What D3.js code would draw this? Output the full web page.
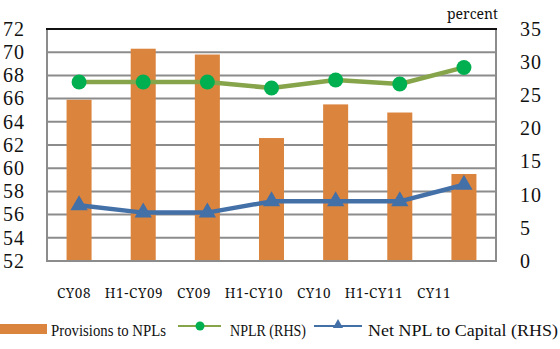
<!DOCTYPE html>
<html>
<head>
<meta charset="utf-8">
<script src="https://cdn.jsdelivr.net/npm/d3@7"></script>
<style>
  html, body { margin: 0; padding: 0; background: #fff; }
</style>
</head>
<body>
<svg id="chart" width="560" height="349"></svg>
<script>
// Categories and series
const categories = ["CY08", "H1-CY09", "CY09", "H1-CY10", "CY10", "H1-CY11", "CY11"];
const provisionsToNPLs = [65.9, 70.3, 69.8, 62.6, 65.5, 64.8, 59.5];
const nplr = [27.0, 27.0, 27.0, 26.1, 27.3, 26.7, 29.2];
const netNplToCapital = [8.4, 7.3, 7.3, 9.0, 9.0, 9.0, 11.5];
const leftTicks = [52, 54, 56, 58, 60, 62, 64, 66, 68, 70, 72];
const rightTicks = [0, 5, 10, 15, 20, 25, 30, 35];
const seriesNames = ["Provisions to NPLs", "NPLR (RHS)", "Net NPL to Capital (RHS)"];

const FONT = "Noto Serif";
const AXIS_FONT = "Liberation Serif";
const LEGEND_FONT = "Liberation Serif";

const svg = d3.select("#chart");
const plot = { left: 47, right: 496, top: 29, bottom: 261 };

const x = d3.scaleBand().domain(categories).range([plot.left, plot.right]).paddingInner(0.61).paddingOuter(0.305);
const xLabel = d3.scaleBand().domain(categories).range([44, 464]);
const yL = d3.scaleLinear().domain([52, 72]).range([plot.bottom, plot.top]);
const yR = d3.scaleLinear().domain([0, 35]).range([plot.bottom, plot.top]);

// Horizontal gridlines
svg.append("g").selectAll("line")
  .data(leftTicks.slice(1, -1))
  .join("line")
  .attr("x1", plot.left).attr("x2", plot.right)
  .attr("y1", d => yL(d)).attr("y2", d => yL(d))
  .attr("stroke", "#8c8c8c").attr("stroke-width", 2);

// Bars
svg.append("g").selectAll("rect")
  .data(categories)
  .join("rect")
  .attr("x", d => x(d))
  .attr("width", x.bandwidth())
  .attr("y", (d, i) => yL(provisionsToNPLs[i]))
  .attr("height", (d, i) => yL(52) - yL(provisionsToNPLs[i]))
  .attr("fill", "#DB843E");

// Plot frame
svg.append("line").attr("x1", plot.left).attr("x2", plot.left).attr("y1", plot.top).attr("y2", plot.bottom)
  .attr("stroke", "#8c8c8c").attr("stroke-width", 2);
svg.append("line").attr("x1", plot.right).attr("x2", plot.right).attr("y1", plot.top).attr("y2", plot.bottom)
  .attr("stroke", "#8c8c8c").attr("stroke-width", 2);
svg.append("line").attr("x1", plot.left - 1).attr("x2", plot.right + 1).attr("y1", plot.bottom).attr("y2", plot.bottom)
  .attr("stroke", "#8c8c8c").attr("stroke-width", 2);
svg.append("line").attr("x1", plot.left - 1).attr("x2", plot.right + 1).attr("y1", plot.top).attr("y2", plot.top)
  .attr("stroke", "#111").attr("stroke-width", 2);

const cx = d => x(d) + x.bandwidth() / 2;

// NPLR line with circle markers
const nplrLine = d3.line().x((d, i) => cx(categories[i])).y(d => yR(d));
svg.append("path").datum(nplr).attr("d", nplrLine)
  .attr("fill", "none").attr("stroke", "#86A44A").attr("stroke-width", 4.5).attr("stroke-linejoin", "round");
svg.append("g").selectAll("circle").data(nplr).join("circle")
  .attr("cx", (d, i) => cx(categories[i])).attr("cy", d => yR(d)).attr("r", 7.5)
  .attr("fill", "#00B050");

// Net NPL to Capital line with triangle markers
const netLine = d3.line().x((d, i) => cx(categories[i])).y(d => yR(d));
svg.append("path").datum(netNplToCapital).attr("d", netLine)
  .attr("fill", "none").attr("stroke", "#4470A8").attr("stroke-width", 4.5).attr("stroke-linejoin", "round");
const tri = d3.symbol().type(d3.symbolTriangle).size(130);
svg.append("g").selectAll("path").data(netNplToCapital).join("path")
  .attr("d", tri)
  .attr("transform", (d, i) => `translate(${cx(categories[i])},${yR(d)})`)
  .attr("fill", "#4470A8");

// Left axis labels
svg.append("g").selectAll("text").data(leftTicks).join("text")
  .attr("x", 25).attr("y", d => yL(d)).attr("dy", "0.34em")
  .attr("text-anchor", "end").attr("font-family", AXIS_FONT).attr("font-size", 20)
  .attr("letter-spacing", 1).attr("fill", "#111")
  .text(d => d);

// Right axis labels
svg.append("g").selectAll("text").data(rightTicks).join("text")
  .attr("x", 520).attr("y", d => yR(d)).attr("dy", "0.34em")
  .attr("text-anchor", "start").attr("font-family", AXIS_FONT).attr("font-size", 20)
  .attr("letter-spacing", 1).attr("fill", "#111")
  .text(d => d);

svg.append("text").attr("x", 498).attr("y", 19).attr("text-anchor", "end")
  .attr("font-family", FONT).attr("font-size", 14).attr("fill", "#111").text("percent");

// Category labels
svg.append("g").selectAll("text").data(categories).join("text")
  .attr("x", d => xLabel(d) + xLabel.bandwidth() / 2).attr("y", 298)
  .attr("text-anchor", "middle").attr("font-family", FONT).attr("font-size", 13.5)
  .attr("letter-spacing", 0.6).attr("fill", "#111")
  .text(d => d);

// Legend
const lg = svg.append("g").attr("font-family", LEGEND_FONT).attr("font-size", 16.5).attr("fill", "#111");
lg.append("rect").attr("x", 0).attr("y", 324).attr("width", 47).attr("height", 10).attr("fill", "#DB843E");
lg.append("text").attr("x", 51).attr("y", 335.5)
  .attr("textLength", 115).attr("lengthAdjust", "spacingAndGlyphs").text(seriesNames[0]);
lg.append("line").attr("x1", 178).attr("x2", 221).attr("y1", 326).attr("y2", 326)
  .attr("stroke", "#86A44A").attr("stroke-width", 2);
lg.append("circle").attr("cx", 200).attr("cy", 326).attr("r", 4.5).attr("fill", "#00B050");
lg.append("text").attr("x", 230).attr("y", 335.5)
  .attr("textLength", 76).attr("lengthAdjust", "spacingAndGlyphs").text(seriesNames[1]);
lg.append("line").attr("x1", 314).attr("x2", 362).attr("y1", 326).attr("y2", 326)
  .attr("stroke", "#4470A8").attr("stroke-width", 2);
lg.append("path").attr("d", d3.symbol().type(d3.symbolTriangle).size(45))
  .attr("transform", "translate(338,325)").attr("fill", "#4470A8");
lg.append("text").attr("x", 368).attr("y", 335.5)
  .attr("textLength", 190).attr("lengthAdjust", "spacingAndGlyphs").text(seriesNames[2]);
</script>
</body>
</html>
